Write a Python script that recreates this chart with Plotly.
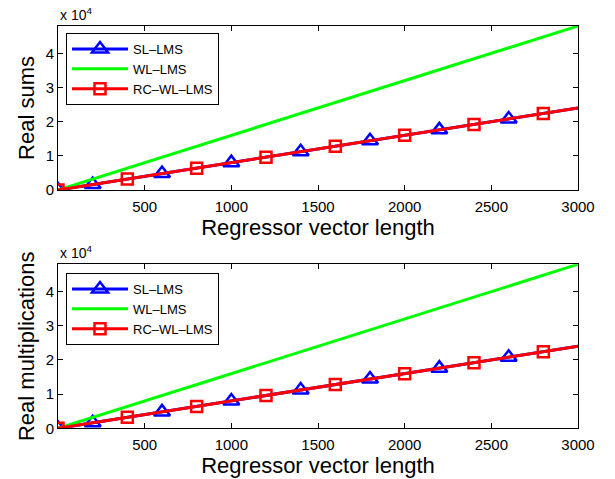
import plotly.graph_objects as go

# Data
N = [0, 200, 400, 600, 800, 1000, 1200, 1400, 1600, 1800, 2000, 2200, 2400, 2600, 2800, 3000]
sl_lms = [0, 1600, 3200, 4800, 6400, 8000, 9600, 11200, 12800, 14400, 16000, 17600, 19200, 20800, 22400, 24000]
wl_lms = [0, 3200, 6400, 9600, 12800, 16000, 19200, 22400, 25600, 28800, 32000, 35200, 38400, 41600, 44800, 48000]
rc_wl_lms = [0, 1600, 3200, 4800, 6400, 8000, 9600, 11200, 12800, 14400, 16000, 17600, 19200, 20800, 22400, 24000]

# marker positions
sl_marker_N = [0, 200, 600, 1000, 1400, 1800, 2200, 2600]
rc_marker_N = [0, 400, 800, 1200, 1600, 2000, 2400, 2800]

y_titles = ["Real sums", "Real multiplications"]
x_title = "Regressor vector length"
series_names = ["SL\u2013LMS", "WL\u2013LMS", "RC\u2013WL\u2013LMS"]
x_ticks = [500, 1000, 1500, 2000, 2500, 3000]
y_ticks = [0, 10000, 20000, 30000, 40000]
y_ticklabels = ["0", "1", "2", "3", "4"]

BLUE = "#0000ff"
GREEN = "#00ff00"
RED = "#ff0000"

fig = go.Figure()

W, H = 615, 479
xl, xr = 58 / W, 578 / W
doms = [((H - 190) / H, (H - 26) / H), ((H - 428.3) / H, (H - 264.3) / H)]

def lookup(xs, ys, sel):
    d = dict(zip(xs, ys))
    return [d[s] for s in sel]

TRI = dict(symbol="triangle-up-open", size=14, color=BLUE, line=dict(width=2.5, color=BLUE))
SQ = dict(symbol="square-open", size=11, color=RED, line=dict(width=2.5, color=RED))

for i in range(2):
    ax = "" if i == 0 else "2"
    xa, ya = "x" + ax, "y" + ax
    leg = "legend" if i == 0 else "legend2"
    fig.add_trace(go.Scatter(x=N, y=sl_lms, mode="lines", line=dict(color=BLUE, width=3),
                             xaxis=xa, yaxis=ya, showlegend=False))
    fig.add_trace(go.Scatter(x=sl_marker_N, y=lookup(N, sl_lms, sl_marker_N), mode="markers",
                             marker=TRI, xaxis=xa, yaxis=ya, showlegend=False))
    fig.add_trace(go.Scatter(x=N, y=wl_lms, mode="lines", line=dict(color=GREEN, width=3),
                             xaxis=xa, yaxis=ya, showlegend=False))
    fig.add_trace(go.Scatter(x=N, y=rc_wl_lms, mode="lines", line=dict(color=RED, width=3),
                             xaxis=xa, yaxis=ya, showlegend=False))
    fig.add_trace(go.Scatter(x=rc_marker_N, y=lookup(N, rc_wl_lms, rc_marker_N), mode="markers",
                             marker=SQ, xaxis=xa, yaxis=ya, showlegend=False))
    # legend entries
    fig.add_trace(go.Scatter(x=[None], y=[None], mode="lines+markers", name=series_names[0],
                             line=dict(color=BLUE, width=3), marker=TRI,
                             xaxis=xa, yaxis=ya, legend=leg))
    fig.add_trace(go.Scatter(x=[None], y=[None], mode="lines", name=series_names[1],
                             line=dict(color=GREEN, width=3), xaxis=xa, yaxis=ya, legend=leg))
    fig.add_trace(go.Scatter(x=[None], y=[None], mode="lines+markers", name=series_names[2],
                             line=dict(color=RED, width=3), marker=SQ,
                             xaxis=xa, yaxis=ya, legend=leg))

FONT = "Liberation Sans, Arial, sans-serif"
axis_common = dict(showgrid=False, zeroline=False, showline=True, linecolor="black", linewidth=1,
                   mirror="ticks", ticks="inside", ticklen=5, tickcolor="black",
                   tickfont=dict(size=15, color="black", family=FONT), automargin=False)

layout = dict(width=W, height=H, margin=dict(l=0, r=0, t=0, b=0, autoexpand=False),
              paper_bgcolor="white", plot_bgcolor="white",
              font=dict(family=FONT, color="black"))
for i in range(2):
    ax = "" if i == 0 else "2"
    layout["xaxis" + ax] = dict(axis_common, domain=[xl, xr], range=[0, 3000], tickvals=x_ticks,
                                anchor="y" + ax, ticklabelstandoff=3,
                                title=dict(text=x_title, font=dict(size=22, family=FONT), standoff=0))
    layout["yaxis" + ax] = dict(axis_common, domain=list(doms[i]), range=[0, 48000], tickvals=y_ticks,
                                ticktext=y_ticklabels, anchor="x" + ax,
                                title=dict(text=y_titles[i], font=dict(size=22, family=FONT), standoff=4))

leg_common = dict(bgcolor="white", bordercolor="black", borderwidth=1,
                  font=dict(size=13, family=FONT, color="black"),
                  xanchor="left", yanchor="top", tracegroupgap=0, itemwidth=56)
layout["legend"] = dict(leg_common, x=66 / W, y=(H - 33) / H)
layout["legend2"] = dict(leg_common, x=66 / W, y=(H - 273) / H)

annotations = []
for i in range(2):
    annotations.append(dict(text="x 10<sup>4</sup>", xref="paper", yref="paper",
                            x=xl, y=doms[i][1], xanchor="left", yanchor="bottom", yshift=1,
                            showarrow=False, font=dict(size=14, family=FONT, color="black")))
layout["annotations"] = annotations

fig.update_layout(**layout)
fig.write_html("out.html", post_script="document.body.style.margin='0';document.body.style.overflow='hidden';")
